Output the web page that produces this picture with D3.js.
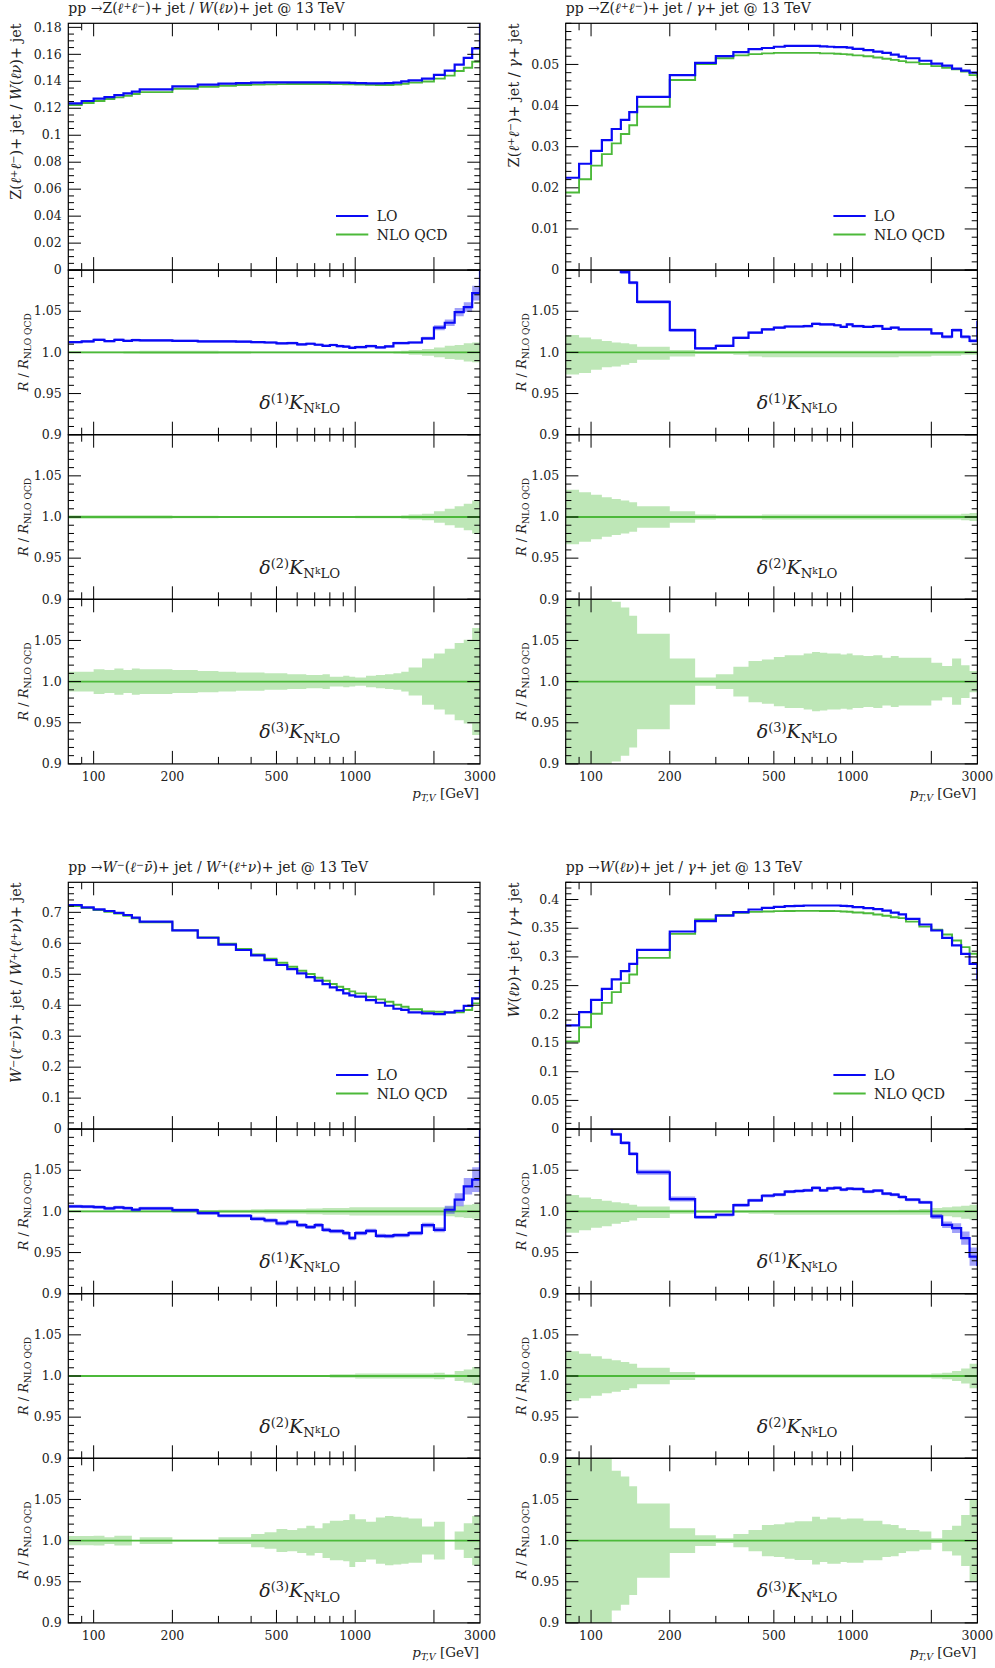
<!DOCTYPE html>
<html><head><meta charset="utf-8">
<script src="https://cdn.jsdelivr.net/npm/d3@7"></script>
<style>body{margin:0;background:#fff} text{white-space:pre}</style>
</head><body>
<script>
// ---------------- DATA ----------------
const binEdges = [80,90,100,110,120,130,140,150,200,250,300,350,400,450,500,550,600,650,700,750,800,850,900,950,1000,1100,1200,1300,1400,1500,1600,1800,2000,2200,2400,2600,2800,3000];
const overflowEdge = 3300;
const xMajorTicks = [100,200,500,1000,2000];
const xMinorTicks = [90,300,400,600,700,800,900];
const xTickLabels = [100,200,500,1000,3000];
const ratioTicks = [0.9,0.95,1.0,1.05,1.1];
const ratioTickLabels = ['0.9','0.95','1.0','1.05',''];

// Plot 1: Z/W
const p1_mainLO  = [0.1236,0.1254,0.1271,0.1283,0.1298,0.1311,0.1323,0.1340,0.1363,0.1375,0.1382,0.1387,0.1390,0.1392,0.1392,0.1392,0.1392,0.1392,0.1392,0.1392,0.1390,0.1390,0.1390,0.1389,0.1386,0.1385,0.1385,0.1386,0.1390,0.1400,0.1407,0.1420,0.1447,0.1479,0.1523,0.1573,0.1644,0.190];
const p1_mainNLO = [0.1224,0.1239,0.1254,0.1269,0.1281,0.1293,0.1306,0.1320,0.1345,0.1360,0.1367,0.1372,0.1375,0.1377,0.1379,0.1380,0.1380,0.1380,0.1380,0.1380,0.1380,0.1379,0.1378,0.1377,0.1376,0.1374,0.1373,0.1373,0.1375,0.1382,0.1390,0.1398,0.1420,0.1442,0.1476,0.1500,0.1545,0.165];
const p1_ratioLO = [1.0125,1.0133,1.0153,1.0137,1.0153,1.0140,1.0150,1.0145,1.0140,1.0133,1.0133,1.0130,1.0125,1.0120,1.0110,1.0113,1.0097,1.0105,1.0093,1.0080,1.0090,1.0077,1.0070,1.0056,1.0065,1.0077,1.0060,1.0073,1.0113,1.0113,1.0120,1.0170,1.0300,1.0360,1.0490,1.0550,1.0720,1.12];
const p1_bandLO  = [0.0015,0.0015,0.0015,0.0015,0.0015,0.0015,0.0015,0.0015,0.0015,0.0015,0.0015,0.0015,0.0015,0.0015,0.0015,0.0015,0.0015,0.0015,0.0015,0.0015,0.0015,0.0015,0.0015,0.0015,0.0015,0.0015,0.0015,0.0015,0.0015,0.0015,0.0015,0.002,0.003,0.004,0.005,0.006,0.009];
const p1_r1Band  = [0.001,0.001,0.001,0.001,0.001,0.0015,0.0015,0.002,0.002,0.002,0.0015,0.0015,0.001,0.001,0.001,0.001,0.001,0.001,0.001,0.001,0.001,0.001,0.001,0.001,0.001,0.001,0.001,0.001,0.0015,0.002,0.003,0.004,0.006,0.008,0.009,0.011,0.012];
const p1_r2Band  = [0.002,0.002,0.002,0.002,0.002,0.002,0.002,0.002,0.0015,0.0015,0.001,0.001,0.001,0.001,0.001,0.001,0.001,0.001,0.001,0.001,0.001,0.001,0.001,0.001,0.0015,0.0015,0.0015,0.0015,0.0015,0.002,0.003,0.004,0.007,0.010,0.013,0.016,0.020];
const p1_r3Band  = [0.012,0.012,0.015,0.014,0.016,0.014,0.016,0.015,0.014,0.013,0.012,0.011,0.011,0.010,0.010,0.009,0.009,0.008,0.008,0.009,0.006,0.006,0.007,0.006,0.005,0.007,0.008,0.009,0.010,0.012,0.017,0.028,0.034,0.040,0.047,0.051,0.065];

// Plot 2: Z/gamma
const p2_mainLO  = [0.02245,0.02585,0.0290,0.0316,0.0343,0.0365,0.0384,0.0421,0.0474,0.0504,0.0520,0.0530,0.0537,0.0540,0.0543,0.0545,0.0545,0.0545,0.0545,0.0544,0.0543,0.0542,0.0542,0.0541,0.0538,0.0535,0.0531,0.0528,0.0524,0.0519,0.0515,0.0509,0.0502,0.0497,0.0490,0.0485,0.0480,0.0478];
const p2_mainNLO = [0.01888,0.0221,0.0254,0.0282,0.0308,0.0331,0.0352,0.0397,0.0462,0.0501,0.0515,0.0522,0.0525,0.0527,0.0528,0.0528,0.0528,0.0528,0.0528,0.0527,0.0527,0.0526,0.0525,0.0524,0.0522,0.0520,0.0517,0.0514,0.0511,0.0508,0.0505,0.0501,0.0496,0.0492,0.0488,0.0483,0.0474,0.0470];
const p2_ratioLO = [1.19,1.17,1.145,1.125,1.11,1.0976,1.0847,1.0613,1.027,1.005,1.008,1.0177,1.024,1.028,1.030,1.0315,1.0315,1.032,1.0347,1.034,1.034,1.033,1.031,1.034,1.032,1.031,1.032,1.0286,1.030,1.028,1.028,1.028,1.023,1.019,1.027,1.019,1.014,1.037];
const p2_bandLO  = [0.002,0.002,0.002,0.002,0.002,0.002,0.002,0.002,0.002,0.0015,0.0015,0.0015,0.0015,0.0015,0.0015,0.0015,0.0015,0.0015,0.0015,0.0015,0.0015,0.0015,0.0015,0.0015,0.0015,0.0015,0.0015,0.0015,0.0015,0.0015,0.0015,0.0015,0.0015,0.002,0.002,0.002,0.002];
const p2_r1Up    = [0.021,0.018,0.016,0.014,0.012,0.011,0.010,0.007,0.003,0.001,0.001,0.001,0.002,0.002,0.002,0.002,0.002,0.002,0.002,0.002,0.002,0.002,0.002,0.002,0.002,0.002,0.002,0.002,0.002,0.002,0.002,0.002,0.002,0.002,0.002,0.002,0.002];
const p2_r1Dn    = [0.027,0.025,0.021,0.018,0.017,0.015,0.013,0.009,0.005,0.002,0.002,0.003,0.005,0.006,0.006,0.006,0.006,0.006,0.006,0.006,0.006,0.006,0.006,0.006,0.006,0.006,0.006,0.006,0.006,0.005,0.005,0.005,0.004,0.004,0.004,0.003,0.003];
const p2_r2Band  = [0.033,0.030,0.027,0.024,0.022,0.020,0.018,0.013,0.007,0.003,0.002,0.002,0.002,0.003,0.003,0.003,0.003,0.003,0.003,0.003,0.003,0.003,0.003,0.003,0.003,0.003,0.003,0.003,0.003,0.003,0.003,0.003,0.003,0.003,0.003,0.004,0.005];
const p2_r3Band  = [0.15,0.13,0.115,0.105,0.097,0.090,0.080,0.058,0.028,0.005,0.009,0.018,0.025,0.027,0.030,0.032,0.032,0.034,0.036,0.035,0.034,0.034,0.033,0.034,0.032,0.031,0.032,0.029,0.031,0.029,0.029,0.029,0.023,0.019,0.028,0.020,0.013];

// Plot 3: W-/W+
const p3_mainLO  = [0.7237,0.716,0.7097,0.7043,0.698,0.6914,0.683,0.670,0.6418,0.618,0.5955,0.5783,0.561,0.546,0.530,0.5168,0.5029,0.491,0.4792,0.4684,0.4576,0.449,0.4382,0.4318,0.4275,0.4167,0.4081,0.3984,0.3887,0.3850,0.3768,0.3736,0.3714,0.377,0.3822,0.398,0.422,0.48];
const p3_mainNLO = [0.7205,0.714,0.7075,0.702,0.6957,0.6892,0.6806,0.6677,0.6418,0.6192,0.5987,0.5815,0.5643,0.5503,0.5373,0.5244,0.5115,0.5007,0.4889,0.4792,0.4684,0.4598,0.4522,0.4447,0.4382,0.4275,0.4189,0.4113,0.4016,0.3952,0.387,0.380,0.379,0.376,0.377,0.3844,0.406,0.42];
const p3_ratioLO = [1.006,1.0057,1.0053,1.0037,1.0049,1.004,1.002,1.0037,1.0016,0.998,0.9947,0.9947,0.991,0.989,0.9854,0.9874,0.9833,0.981,0.9833,0.9776,0.976,0.976,0.9736,0.9675,0.9736,0.9764,0.9703,0.9699,0.9711,0.9711,0.9736,0.9833,0.9776,1.002,1.0142,1.0305,1.0386,1.12];
const p3_bandLO  = [0.002,0.002,0.002,0.002,0.002,0.002,0.002,0.002,0.002,0.002,0.002,0.002,0.0025,0.0025,0.0025,0.0025,0.0025,0.0025,0.0025,0.0025,0.0025,0.0025,0.0025,0.0025,0.0025,0.0025,0.0025,0.0025,0.0025,0.0025,0.0025,0.003,0.003,0.005,0.008,0.010,0.015];
const p3_r1Band  = [0.001,0.001,0.001,0.001,0.001,0.001,0.001,0.001,0.0015,0.0015,0.002,0.002,0.0025,0.003,0.003,0.003,0.003,0.0035,0.0035,0.004,0.004,0.004,0.004,0.005,0.005,0.005,0.005,0.005,0.005,0.005,0.005,0.005,0.005,0.006,0.007,0.008,0.009];
const p3_r2Band  = [0.001,0.001,0.001,0.001,0.001,0.001,0.001,0.001,0.001,0.001,0.001,0.001,0.001,0.001,0.001,0.001,0.001,0.001,0.001,0.001,0.002,0.002,0.002,0.002,0.003,0.003,0.003,0.003,0.003,0.003,0.003,0.003,0.004,0.002,0.006,0.008,0.011];
const p3_r3Band  = [0.0055,0.0055,0.006,0.004,0.006,0.006,0,0.004,0.001,0.001,0.004,0.004,0.008,0.010,0.014,0.013,0.015,0.018,0.015,0.021,0.024,0.024,0.025,0.032,0.026,0.023,0.028,0.030,0.029,0.028,0.027,0.017,0.023,0,0.011,0.021,0.030];

// Plot 4: W/gamma
const p4_mainLO  = [0.1806,0.2038,0.2253,0.2444,0.2607,0.2752,0.288,0.3124,0.3443,0.3623,0.3721,0.378,0.3826,0.3855,0.3872,0.3884,0.389,0.3896,0.3896,0.3896,0.3896,0.3896,0.3890,0.3884,0.3867,0.385,0.3832,0.3808,0.377,0.374,0.3663,0.3565,0.346,0.3333,0.32,0.3054,0.288,0.262];
const p4_mainNLO = [0.1527,0.1775,0.2009,0.22,0.2386,0.2543,0.2694,0.2984,0.3402,0.3652,0.3733,0.3768,0.3785,0.379,0.3797,0.3800,0.3803,0.3803,0.3803,0.3800,0.3800,0.3798,0.3792,0.3786,0.3774,0.3762,0.3739,0.3716,0.3692,0.3675,0.3615,0.3527,0.3472,0.3391,0.3286,0.317,0.3054,0.30];
const p4_ratioLO = [1.18,1.15,1.12,1.11,1.0935,1.0833,1.070,1.0476,1.015,0.9931,0.9959,1.0077,1.0134,1.019,1.0203,1.024,1.0248,1.0256,1.0285,1.0256,1.028,1.0285,1.0264,1.0276,1.0272,1.024,1.0252,1.0215,1.0203,1.0175,1.0142,1.011,0.9939,0.9837,0.9797,0.9675,0.9451,0.935];
const p4_bandLO  = [0.002,0.002,0.002,0.002,0.002,0.002,0.002,0.003,0.003,0.002,0.002,0.002,0.002,0.002,0.002,0.002,0.002,0.002,0.002,0.002,0.002,0.002,0.002,0.002,0.002,0.002,0.002,0.002,0.002,0.002,0.002,0.002,0.003,0.004,0.006,0.008,0.011];
const p4_r1Up    = [0.020,0.017,0.015,0.013,0.011,0.010,0.008,0.006,0.002,0.001,0.001,0.001,0.001,0.0015,0.0015,0.0015,0.0015,0.0015,0.0015,0.0015,0.0015,0.0015,0.0015,0.0015,0.0015,0.0015,0.0015,0.0015,0.0015,0.002,0.002,0.003,0.004,0.005,0.006,0.007,0.008];
const p4_r1Dn    = [0.026,0.023,0.020,0.018,0.015,0.013,0.011,0.008,0.003,0.002,0.002,0.002,0.003,0.003,0.004,0.004,0.004,0.004,0.004,0.004,0.004,0.004,0.004,0.004,0.004,0.004,0.004,0.004,0.004,0.004,0.004,0.004,0.005,0.006,0.007,0.009,0.010];
const p4_r2Band  = [0.030,0.027,0.024,0.021,0.019,0.017,0.015,0.010,0.005,0.002,0.002,0.002,0.002,0.002,0.002,0.002,0.002,0.002,0.002,0.002,0.002,0.002,0.002,0.002,0.002,0.002,0.002,0.002,0.002,0.002,0.002,0.002,0.003,0.004,0.006,0.009,0.015];
const p4_r3Band  = [0.12,0.11,0.105,0.10,0.085,0.078,0.066,0.045,0.015,0.0065,0.003,0.008,0.013,0.019,0.020,0.022,0.0235,0.0235,0.029,0.026,0.028,0.028,0.026,0.027,0.027,0.024,0.024,0.020,0.019,0.015,0.013,0.011,0.003,0.013,0.018,0.031,0.050];

const p1_yTicks = [0,0.02,0.04,0.06,0.08,0.1,0.12,0.14,0.16,0.18];
const p1_yLabels = ['0','0.02','0.04','0.06','0.08','0.1','0.12','0.14','0.16','0.18'];
const p2_yTicks = [0,0.01,0.02,0.03,0.04,0.05];
const p2_yLabels = ['0','0.01','0.02','0.03','0.04','0.05'];
const p3_yTicks = [0,0.1,0.2,0.3,0.4,0.5,0.6,0.7];
const p3_yLabels = ['0','0.1','0.2','0.3','0.4','0.5','0.6','0.7'];
const p4_yTicks = [0,0.05,0.1,0.15,0.2,0.25,0.3,0.35,0.4];
const p4_yLabels = ['0','0.05','0.1','0.15','0.2','0.25','0.3','0.35','0.4'];

// ---------------- LAYOUT / STYLE ----------------
const FONT = "'DejaVu Serif','Liberation Serif',serif";
const plotW = 411.7, mainH = 246.8, ratioH = 164.6;
const lefts = [68.3, 565.7], tops = [23.3, 882.3];
const BLUE = '#0a0af5', GREEN = '#4cb93a';
const edgesAll = binEdges.concat([overflowEdge]);

const svg = d3.select('body').append('svg').attr('width',995).attr('height',1668)
  .style('font-family', FONT);
const defs = svg.append('defs');
let clipN = 0;
function makeClip(x0,y0,w,h){
  const id='clip'+(clipN++);
  defs.append('clipPath').attr('id',id).append('rect').attr('x',x0).attr('y',y0).attr('width',w).attr('height',h);
  return id;
}

function rich(textSel, markup, size){
  const tokens = markup.match(/<\/?(?:i|sup|sub)>|[^<]+/g);
  let italic = 0; const stack=[{size:size, off:0}]; let lastOff = 0;
  tokens.forEach(tok=>{
    if(tok==='<i>') italic++;
    else if(tok==='</i>') italic--;
    else if(tok==='<sup>'){const c=stack[stack.length-1]; stack.push({size:c.size*0.68, off:c.off - c.size*0.32});}
    else if(tok==='<sub>'){const c=stack[stack.length-1]; stack.push({size:c.size*0.7, off:c.off + c.size*0.22});}
    else if(tok==='</sup>'||tok==='</sub>') stack.pop();
    else {
      const c=stack[stack.length-1];
      textSel.append('tspan').attr('font-size',c.size).attr('font-style',italic>0?'italic':'normal')
        .attr('dy',c.off-lastOff).text(tok);
      lastOff=c.off;
    }
  });
  return textSel;
}

function stepLine(vals, x, y){
  const pts = vals.map((v,i)=>[x(edgesAll[i]), y(v)]);
  pts.push([x(edgesAll[vals.length]), y(vals[vals.length-1])]);
  return d3.line().curve(d3.curveStepAfter)(pts);
}
function stepBand(center, up, dn, x, y){
  const pts = up.map((u,i)=>({x:x(edgesAll[i]), c:(typeof center==='number'?center:center[i]), u:u, d:dn[i]}));
  const last = pts[pts.length-1];
  pts.push({x:x(edgesAll[up.length]), c:last.c, u:last.u, d:last.d});
  return d3.area().curve(d3.curveStepAfter).x(p=>p.x).y0(p=>y(p.c-p.d)).y1(p=>y(p.c+p.u))(pts);
}

function frame(g, x, y, top, h, majors, labels, minorStep){
  const L=x.range()[0], R=x.range()[1], B=top+h;
  const dom=y.domain();
  const tk = g.append('g').attr('stroke','#000').attr('stroke-width',1);
  const minors=[];
  for(let k=Math.ceil(dom[0]/minorStep-1e-6); k*minorStep<=dom[1]+1e-9; k++){
    const v=k*minorStep;
    if(!majors.some(m=>Math.abs(m-v)<minorStep*0.1)) minors.push(v);
  }
  majors.forEach(v=>{
    if(v<dom[0]-1e-9||v>dom[1]+1e-9) return;
    tk.append('line').attr('x1',L).attr('x2',L+12.7).attr('y1',y(v)).attr('y2',y(v));
    tk.append('line').attr('x1',R-12.7).attr('x2',R).attr('y1',y(v)).attr('y2',y(v));
  });
  minors.forEach(v=>{
    tk.append('line').attr('x1',L).attr('x2',L+5.7).attr('y1',y(v)).attr('y2',y(v));
    tk.append('line').attr('x1',R-5.7).attr('x2',R).attr('y1',y(v)).attr('y2',y(v));
  });
  xMajorTicks.forEach(v=>{
    tk.append('line').attr('x1',x(v)).attr('x2',x(v)).attr('y1',top).attr('y2',top+13);
    tk.append('line').attr('x1',x(v)).attr('x2',x(v)).attr('y1',B-13).attr('y2',B);
  });
  xMinorTicks.forEach(v=>{
    tk.append('line').attr('x1',x(v)).attr('x2',x(v)).attr('y1',top).attr('y2',top+7);
    tk.append('line').attr('x1',x(v)).attr('x2',x(v)).attr('y1',B-7).attr('y2',B);
  });
  g.append('rect').attr('x',L).attr('y',top).attr('width',R-L).attr('height',h)
    .attr('fill','none').attr('stroke','#000').attr('stroke-width',1.2);
  majors.forEach((v,i)=>{
    if(!labels[i]) return;
    g.append('text').attr('x',L-6.6).attr('y',y(v)+4.2).attr('text-anchor','end')
      .attr('font-size',12.5).attr('fill','#222').text(labels[i]);
  });
}

function drawPlot(cfg){
  const L=lefts[cfg.col], T=tops[cfg.row];
  const x = d3.scaleLog().domain([80,3000]).range([L, L+plotW]);
  const g = svg.append('g');
  rich(g.append('text').attr('x',L).attr('y',T-10).attr('fill','#222'), cfg.title, 14);

  // ---- main panel
  const yM = d3.scaleLinear().domain(cfg.mainDomain).range([T+mainH, T]);
  const cm = makeClip(L,T,plotW,mainH);
  const mg = g.append('g').attr('clip-path',`url(#${cm})`);
  mg.append('path').attr('d',stepLine(cfg.mainNLO,x,yM)).attr('fill','none').attr('stroke',GREEN).attr('stroke-width',1.9);
  mg.append('path').attr('d',stepLine(cfg.mainLO,x,yM)).attr('fill','none').attr('stroke',BLUE).attr('stroke-width',2.2);
  frame(g, x, yM, T, mainH, cfg.yTicks, cfg.yLabels, cfg.minorStep);
  rich(g.append('text').attr('transform',`translate(${L-47},${T}) rotate(-90)`).attr('text-anchor','end').attr('fill','#222'), cfg.ylabel, 14.5);
  const lg = g.append('g');
  [[BLUE,'LO',192.7,2.2],[GREEN,'NLO QCD',211.2,1.9]].forEach(([c,t,dy,w])=>{
    lg.append('line').attr('x1',L+267.7).attr('x2',L+300).attr('y1',T+dy).attr('y2',T+dy).attr('stroke',c).attr('stroke-width',w);
    lg.append('text').attr('x',L+308.4).attr('y',T+dy+5).attr('font-size',14).attr('fill','#222').text(t);
  });

  // ---- ratio panels
  const panels = [
    {top:T+mainH, up:cfg.r1Up, dn:cfg.r1Dn, lo:true, k:'1'},
    {top:T+mainH+ratioH, up:cfg.r2Band, dn:cfg.r2Band, lo:false, k:'2'},
    {top:T+mainH+2*ratioH, up:cfg.r3Band, dn:cfg.r3Band, lo:false, k:'3'}
  ];
  panels.forEach((p,pi)=>{
    const yR = d3.scaleLinear().domain([0.9,1.1]).range([p.top+ratioH, p.top]);
    const cid = makeClip(L,p.top,plotW,ratioH);
    const rg = g.append('g').attr('clip-path',`url(#${cid})`);
    rg.append('path').attr('d',stepBand(1,p.up,p.dn,x,yR)).attr('fill','#5cc24a').attr('fill-opacity',0.4).attr('stroke','none');
    rg.append('line').attr('x1',x(80)).attr('x2',x(3000)).attr('y1',yR(1)).attr('y2',yR(1)).attr('stroke',GREEN).attr('stroke-width',1.9);
    if(p.lo){
      rg.append('path').attr('d',stepBand(cfg.ratioLO,cfg.bandLO,cfg.bandLO,x,yR)).attr('fill','#2020f0').attr('fill-opacity',0.42).attr('stroke','none');
      rg.append('path').attr('d',stepLine(cfg.ratioLO,x,yR)).attr('fill','none').attr('stroke',BLUE).attr('stroke-width',2.2);
    }
    frame(g, x, yR, p.top, ratioH, ratioTicks, ratioTickLabels, 0.01);
    rich(g.append('text').attr('transform',`translate(${L-40},${p.top+ratioH/2}) rotate(-90)`).attr('text-anchor','middle').attr('fill','#222'),
      '<i>R</i> / <i>R</i><sub>NLO QCD</sub>', 13);
    rich(g.append('text').attr('x',L+191).attr('y',yR(0.931)).attr('fill','#222'),
      `<i>δ</i><sup>(${p.k})</sup><i>K</i><sub>N<sup>k</sup>LO</sub>`, 19);
    if(pi===2){
      xTickLabels.forEach(v=>{
        g.append('text').attr('x',x(v)).attr('y',p.top+ratioH+17.5).attr('text-anchor','middle')
          .attr('font-size',12.5).attr('fill','#222').text(v);
      });
      rich(g.append('text').attr('x',L+plotW-1).attr('y',p.top+ratioH+34.5).attr('text-anchor','end').attr('fill','#222'),
        '<i>p</i><sub><i>T,V</i></sub> [GeV]', 13.5);
    }
  });
}

drawPlot({col:0,row:0,
  title:'pp →Z(<i>ℓ</i><sup>+</sup><i>ℓ</i><sup>−</sup>)+ jet / <i>W</i>(<i>ℓν</i>)+ jet @ 13 TeV',
  ylabel:'Z(<i>ℓ</i><sup>+</sup><i>ℓ</i><sup>−</sup>)+ jet / <i>W</i>(<i>ℓν</i>)+ jet',
  mainDomain:[0,0.183], yTicks:p1_yTicks, yLabels:p1_yLabels, minorStep:0.005,
  mainLO:p1_mainLO, mainNLO:p1_mainNLO, ratioLO:p1_ratioLO, bandLO:p1_bandLO,
  r1Up:p1_r1Band, r1Dn:p1_r1Band, r2Band:p1_r2Band, r3Band:p1_r3Band});
drawPlot({col:1,row:0,
  title:'pp →Z(<i>ℓ</i><sup>+</sup><i>ℓ</i><sup>−</sup>)+ jet / <i>γ</i>+ jet @ 13 TeV',
  ylabel:'Z(<i>ℓ</i><sup>+</sup><i>ℓ</i><sup>−</sup>)+ jet / <i>γ</i>+ jet',
  mainDomain:[0,0.06], yTicks:p2_yTicks, yLabels:p2_yLabels, minorStep:0.002,
  mainLO:p2_mainLO, mainNLO:p2_mainNLO, ratioLO:p2_ratioLO, bandLO:p2_bandLO,
  r1Up:p2_r1Up, r1Dn:p2_r1Dn, r2Band:p2_r2Band, r3Band:p2_r3Band});
drawPlot({col:0,row:1,
  title:'pp →<i>W</i><sup>−</sup>(<i>ℓ</i><sup>−</sup><i>ν̄</i>)+ jet / <i>W</i><sup>+</sup>(<i>ℓ</i><sup>+</sup><i>ν</i>)+ jet @ 13 TeV',
  ylabel:'<i>W</i><sup>−</sup>(<i>ℓ</i><sup>−</sup><i>ν̄</i>)+ jet / <i>W</i><sup>+</sup>(<i>ℓ</i><sup>+</sup><i>ν</i>)+ jet',
  mainDomain:[0,0.797], yTicks:p3_yTicks, yLabels:p3_yLabels, minorStep:0.02,
  mainLO:p3_mainLO, mainNLO:p3_mainNLO, ratioLO:p3_ratioLO, bandLO:p3_bandLO,
  r1Up:p3_r1Band, r1Dn:p3_r1Band, r2Band:p3_r2Band, r3Band:p3_r3Band});
drawPlot({col:1,row:1,
  title:'pp →<i>W</i>(<i>ℓν</i>)+ jet / <i>γ</i>+ jet @ 13 TeV',
  ylabel:'<i>W</i>(<i>ℓν</i>)+ jet / <i>γ</i>+ jet',
  mainDomain:[0,0.43], yTicks:p4_yTicks, yLabels:p4_yLabels, minorStep:0.01,
  mainLO:p4_mainLO, mainNLO:p4_mainNLO, ratioLO:p4_ratioLO, bandLO:p4_bandLO,
  r1Up:p4_r1Up, r1Dn:p4_r1Dn, r2Band:p4_r2Band, r3Band:p4_r3Band});
</script>
</body></html>
